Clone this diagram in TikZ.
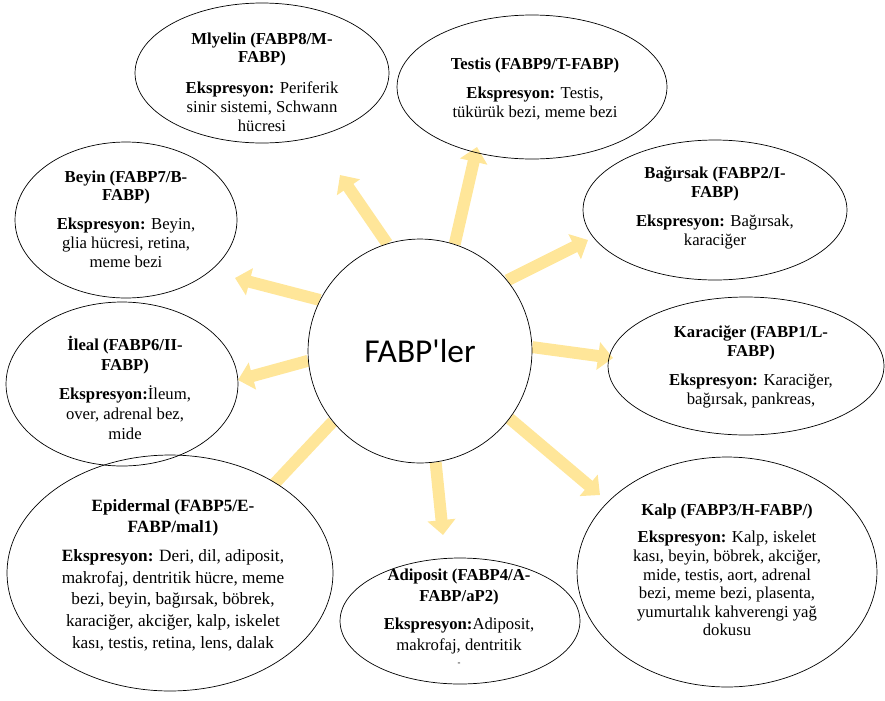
\documentclass[tikz,border=0pt]{standalone}
\usepackage{fontspec}
\setmainfont{Liberation Serif}
\newfontfamily\calibri{Carlito}
\usetikzlibrary{arrows.meta}
\usetikzlibrary{backgrounds}
\usetikzlibrary{shapes.geometric}
\definecolor{fabpgold}{HTML}{FFE699}

\begin{document}
\begin{tikzpicture}[x=0.02cm,y=-0.02cm,
		organ/.style = {draw, ellipse, inner sep=0pt},
		organtext/.style = {align=center, inner sep=0pt, font=\fontsize{9.5}{10.6}\selectfont},
		fabparrow/.style = {fabpgold, line width=6.8pt, -{Triangle[width=15.5pt,length=8.5pt]}}]
				\useasboundingbox (0,0) rectangle (885,700);
				\node[draw, circle, fill=white, minimum size=4.48cm, font=\calibri\fontsize{19}{22}\selectfont] (fabp) at (420,351) {FABP\textquotesingle ler};
				\begin{scope}[every node/.style={organ}]
					\node[minimum width=5.08cm, minimum height=2.80cm] (mly) at (262,73) {};
					\node[minimum width=5.40cm, minimum height=2.88cm] (tes) at (532,87) {};
					\node[minimum width=5.28cm, minimum height=2.80cm] (bag) at (715,210) {};
					\node[minimum width=5.52cm, minimum height=2.76cm] (kar) at (746,366) {};
					\node[minimum width=6.00cm, minimum height=4.60cm] (kalp) at (727,572) {};
					\node[minimum width=4.80cm, minimum height=2.52cm] (adi) at (460,621) {};
					\node[minimum width=6.52cm, minimum height=4.72cm, fill=white] (epi) at (170,573) {};
					\node[minimum width=4.64cm, minimum height=3.28cm] (ile) at (122,384) {};
					\node[minimum width=4.44cm, minimum height=3.12cm] (bey) at (126,220) {};
				\end{scope}
				\node[organtext] (mlyT) at (262,82) {\textbf{Mlyelin (FABP8/M-}\\\textbf{FABP)}\\[7pt]\textbf{Ekspresyon:} Periferik\\sinir sistemi, Schwann\\hücresi};
				\node[organtext] (tesT) at (535,89) {\textbf{Testis (FABP9/T-FABP)}\\[6pt]\textbf{Ekspresyon:} Testis,\\tükürük bezi, meme bezi};
				\node[organtext] (bagT) at (715,208) {\textbf{Bağırsak (FABP2/I-}\\\textbf{FABP)}\\[6pt]\textbf{Ekspresyon:} Bağırsak,\\karaciğer};
				\node[organtext] (karT) at (751,367) {\textbf{Karaciğer (FABP1/L-}\\\textbf{FABP)}\\[6pt]\textbf{Ekspresyon:} Karaciğer,\\bağırsak, pankreas,};
				\node[organtext] (kalpT) at (727,570) {\textbf{Kalp (FABP3/H-FABP/)}\\[5pt]\textbf{Ekspresyon:} Kalp, iskelet\\kası, beyin, böbrek, akciğer,\\mide, testis, aort, adrenal\\bezi, meme bezi, plasenta,\\yumurtalık kahverengi yağ\\dokusu};
				\node[organtext, font=\fontsize{9.5}{12}\selectfont] (adiT) at (459,617) {\textbf{Adiposit (FABP4/A-}\\\textbf{FABP/aP2)}\\[4pt]\textbf{Ekspresyon:}Adiposit,\\makrofaj, dentritik\\[-3.5pt]{\tiny -}};
				\node[organtext, font=\fontsize{9.8}{12.3}\selectfont] (epiT) at (173,575) {\textbf{Epidermal (FABP5/E-}\\\textbf{FABP/mal1)}\\[4pt]\textbf{Ekspresyon:} Deri, dil, adiposit,\\makrofaj, dentritik hücre, meme\\bezi, beyin, bağırsak, böbrek,\\karaciğer, akciğer, kalp, iskelet\\kası, testis, retina, lens, dalak};
				\node[organtext, font=\fontsize{9.5}{11.3}\selectfont] (ileT) at (125,388) {\textbf{İleal (FABP6/II-}\\\textbf{FABP)}\\[5pt]\textbf{Ekspresyon:}İleum,\\over, adrenal bez,\\mide};
				\node[organtext] (beyT) at (126,219) {\textbf{Beyin (FABP7/B-}\\\textbf{FABP)}\\[6pt]\textbf{Ekspresyon:} Beyin,\\glia hücresi, retina,\\meme bezi};
				\coordinate (tipMly) at (340,175);
				\coordinate (tipTes) at (477,147);
				\coordinate (tipBag) at (588,240);
				\coordinate (tipKar) at (613,358);
				\coordinate (tipKalp) at (600,495);
				\coordinate (tipAdi) at (443,535);
				\coordinate (tipEpi) at (262,497);
				\coordinate (tipIle) at (238,380);
				\coordinate (tipBey) at (235,278);
				\begin{scope}[on background layer]
					\draw[fabparrow] (fabp.107) -- (tipMly);
					\draw[fabparrow] (fabp.72) -- (tipTes);
					\draw[fabparrow] (fabp.39) -- (tipBag);
					\draw[fabparrow] (fabp.2) -- (tipKar);
					\draw[fabparrow] (fabp.-37) -- (tipKalp);
					\draw[fabparrow] (fabp.-82) -- (tipAdi);
					\draw[fabparrow] (fabp.-141) -- (tipEpi);
					\draw[fabparrow] (fabp.185) -- (tipIle);
					\draw[fabparrow] (fabp.153) -- (tipBey);
				\end{scope}
			\end{tikzpicture}
\end{document}
